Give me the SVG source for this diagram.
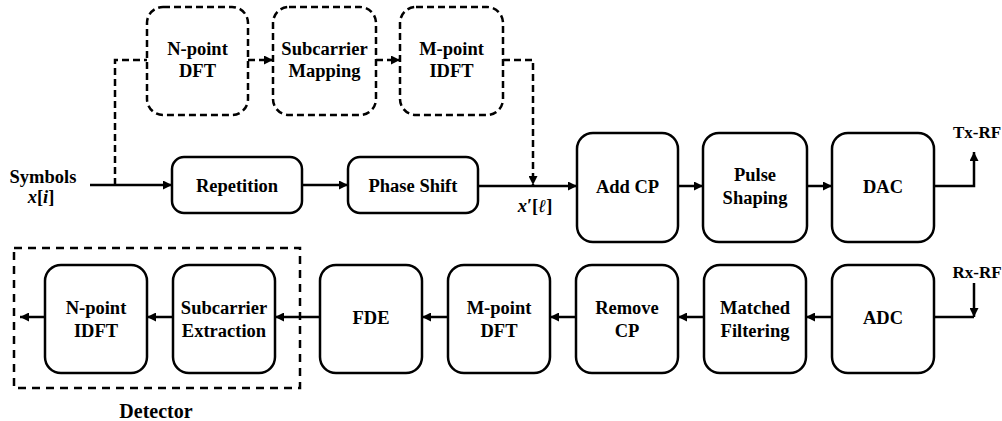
<svg xmlns="http://www.w3.org/2000/svg" width="1002" height="421" viewBox="0 0 1002 421">
<defs>
<marker id="ah" viewBox="0 0 10 10" refX="10" refY="5" markerWidth="10" markerHeight="9" markerUnits="userSpaceOnUse" orient="auto">
<path d="M0,0 L10,5 L0,10 z" fill="#000"/>
</marker>
<style>
.box{fill:#fff;stroke:#000;stroke-width:2.5}
.dbox{fill:#fff;stroke:#000;stroke-width:2.5;stroke-dasharray:7 4}
.ln{fill:none;stroke:#000;stroke-width:2.5}
.dln{fill:none;stroke:#000;stroke-width:2.5;stroke-dasharray:7 4}
text{font-family:"Liberation Serif","Times New Roman",serif;font-weight:bold;font-size:18.5px;fill:#000;text-anchor:middle}
.it{font-style:italic}
.rf{font-size:17px}
.det{font-size:20px}
</style>
</defs>
<rect width="1002" height="421" fill="#fff"/>

<g id="connectors">
<path class="dln" d="M115,185 V60 H147"/>
<line class="dln" x1="248" y1="60" x2="273" y2="60" marker-end="url(#ah)"/>
<line class="dln" x1="376" y1="60" x2="400" y2="60" marker-end="url(#ah)"/>
<path class="dln" d="M503,60 H533 V185" marker-end="url(#ah)"/>
<line class="ln" x1="90" y1="185" x2="172" y2="185" marker-end="url(#ah)"/>
<line class="ln" x1="302" y1="185" x2="348" y2="185" marker-end="url(#ah)"/>
<line class="ln" x1="478" y1="186" x2="577" y2="186" marker-end="url(#ah)"/>
<line class="ln" x1="678" y1="186" x2="703" y2="186" marker-end="url(#ah)"/>
<line class="ln" x1="807" y1="186" x2="832" y2="186" marker-end="url(#ah)"/>
<path class="ln" d="M934,186 H974 V152" marker-end="url(#ah)"/>
<path class="ln" d="M974,283 V317" marker-end="url(#ah)"/>
<line class="ln" x1="974" y1="317" x2="934" y2="317"/>
<line class="ln" x1="832" y1="317" x2="806" y2="317" marker-end="url(#ah)"/>
<line class="ln" x1="704" y1="317" x2="678" y2="317" marker-end="url(#ah)"/>
<line class="ln" x1="576" y1="317" x2="550" y2="317" marker-end="url(#ah)"/>
<line class="ln" x1="448" y1="317" x2="422" y2="317" marker-end="url(#ah)"/>
<line class="ln" x1="320" y1="317" x2="275" y2="317" marker-end="url(#ah)"/>
<line class="ln" x1="173" y1="317" x2="147" y2="317" marker-end="url(#ah)"/>
<line class="ln" x1="45" y1="317" x2="20" y2="317" marker-end="url(#ah)"/>
</g>

<g id="detector">
<rect x="14" y="248" width="286" height="140" fill="none" stroke="#000" stroke-width="2.5" stroke-dasharray="8 6"/>
<text class="det" x="156" y="418">Detector</text>
</g>

<g id="labels">
<text x="43" y="183">Symbols</text>
<text x="41" y="203"><tspan class="it">x</tspan>[<tspan class="it">i</tspan>]</text>
<text x="535" y="212"><tspan class="it">x</tspan>′[<tspan class="it">ℓ</tspan>]</text>
<text class="rf" x="977" y="138">Tx-RF</text>
<text class="rf" x="977" y="278">Rx-RF</text>
</g>

<g id="n-point-dft">
<rect class="dbox" x="147" y="7" width="101" height="108" rx="16"/>
<text x="197.5" y="55">N-point</text><text x="197.5" y="77">DFT</text>
</g>
<g id="subcarrier-mapping">
<rect class="dbox" x="273" y="7" width="103" height="108" rx="16"/>
<text x="324.5" y="55">Subcarrier</text><text x="324.5" y="77">Mapping</text>
</g>
<g id="m-point-idft">
<rect class="dbox" x="400" y="7" width="103" height="108" rx="16"/>
<text x="451.5" y="55">M-point</text><text x="451.5" y="77">IDFT</text>
</g>

<g id="repetition">
<rect class="box" x="172" y="157" width="130" height="56" rx="12"/>
<text x="237" y="192">Repetition</text>
</g>
<g id="phase-shift">
<rect class="box" x="348" y="157" width="130" height="56" rx="12"/>
<text x="413" y="192">Phase Shift</text>
</g>
<g id="add-cp">
<rect class="box" x="577" y="133" width="101" height="109" rx="16"/>
<text x="627.5" y="193">Add CP</text>
</g>
<g id="pulse-shaping">
<rect class="box" x="703" y="133" width="104" height="109" rx="16"/>
<text x="755" y="181">Pulse</text><text x="755" y="204">Shaping</text>
</g>
<g id="dac">
<rect class="box" x="832" y="133" width="102" height="109" rx="16"/>
<text x="883" y="193">DAC</text>
</g>

<g id="n-point-idft">
<rect class="box" x="45" y="265" width="102" height="108" rx="16"/>
<text x="96" y="314">N-point</text><text x="96" y="337">IDFT</text>
</g>
<g id="subcarrier-extraction">
<rect class="box" x="173" y="265" width="102" height="108" rx="16"/>
<text x="224" y="314">Subcarrier</text><text x="224" y="337">Extraction</text>
</g>
<g id="fde">
<rect class="box" x="320" y="265" width="102" height="108" rx="16"/>
<text x="371" y="324">FDE</text>
</g>
<g id="m-point-dft">
<rect class="box" x="448" y="265" width="102" height="108" rx="16"/>
<text x="499" y="314">M-point</text><text x="499" y="337">DFT</text>
</g>
<g id="remove-cp">
<rect class="box" x="576" y="265" width="102" height="108" rx="16"/>
<text x="627" y="314">Remove</text><text x="627" y="337">CP</text>
</g>
<g id="matched-filtering">
<rect class="box" x="704" y="265" width="102" height="108" rx="16"/>
<text x="755" y="314">Matched</text><text x="755" y="337">Filtering</text>
</g>
<g id="adc">
<rect class="box" x="832" y="265" width="102" height="108" rx="16"/>
<text x="883" y="324">ADC</text>
</g>
</svg>
